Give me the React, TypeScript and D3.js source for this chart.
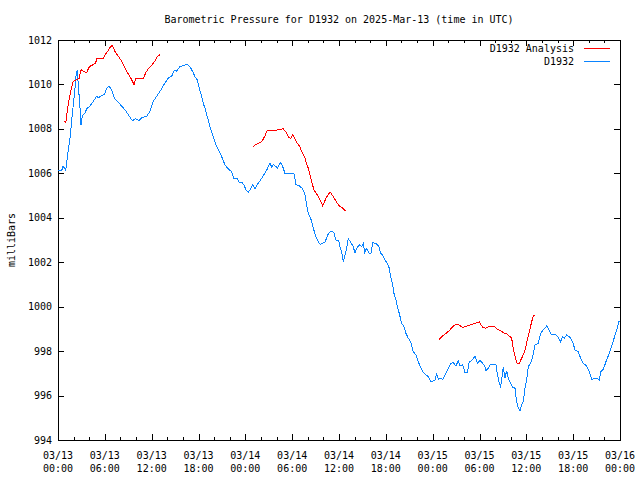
import React from "react";
import * as d3 from "d3";

// hours since 2025-03-13 00:00 UTC, pressure (mb)
const observed: [number, number][] = [
  [0.0, 1006.14], [0.5, 1006.15], [0.64, 1006.33], [0.99, 1006.15], [1.24, 1006.84], [1.54, 1007.59],
  [1.75, 1008.36], [1.96, 1009.09], [2.18, 1009.84], [2.31, 1010.38], [2.47, 1010.64], [2.6, 1009.99],
  [2.82, 1008.94], [2.95, 1008.19], [3.11, 1008.58], [3.46, 1008.72], [3.68, 1008.91], [4.1, 1009.03],
  [4.52, 1009.24], [4.96, 1009.47], [5.16, 1009.39], [5.6, 1009.51], [5.93, 1009.54], [6.24, 1009.84],
  [6.53, 1009.92], [6.88, 1009.76], [7.21, 1009.39], [7.72, 1009.21], [8.16, 1009.02], [8.58, 1008.86],
  [9.0, 1008.64], [9.52, 1008.37], [9.95, 1008.46], [10.38, 1008.37], [10.8, 1008.52], [11.36, 1008.57],
  [11.79, 1008.79], [12.21, 1009.24], [12.64, 1009.47], [13.2, 1009.76], [13.71, 1010.07], [14.13, 1010.29],
  [14.57, 1010.37], [14.9, 1010.64], [15.2, 1010.6], [15.63, 1010.8], [16.05, 1010.84], [16.56, 1010.91],
  [16.91, 1010.8], [17.26, 1010.57], [17.55, 1010.35], [17.85, 1010.2], [18.1, 1009.83], [18.41, 1009.45],
  [18.61, 1009.15], [18.83, 1008.93], [19.13, 1008.55], [19.47, 1008.1], [19.82, 1007.73], [20.11, 1007.4],
  [20.54, 1007.05], [20.97, 1006.75], [21.39, 1006.38], [21.82, 1006.2], [22.25, 1006.07], [22.55, 1005.75],
  [22.89, 1005.79], [23.23, 1005.6], [23.53, 1005.6], [23.83, 1005.48], [24.08, 1005.25], [24.38, 1005.15],
  [24.6, 1005.25], [24.94, 1005.48], [25.24, 1005.3], [25.53, 1005.5], [25.88, 1005.66], [26.3, 1005.89],
  [26.74, 1006.15], [27.16, 1006.45], [27.38, 1006.29], [27.58, 1006.41], [27.93, 1006.3], [28.09, 1006.23],
  [28.53, 1006.5], [28.79, 1006.3], [29.08, 1006.0], [29.59, 1005.97], [30.23, 1006.0], [30.49, 1005.5],
  [30.91, 1005.44], [31.35, 1005.3], [31.64, 1005.03], [31.86, 1004.58], [32.07, 1004.2], [32.37, 1003.98],
  [32.71, 1003.53], [33.05, 1003.15], [33.35, 1002.92], [33.56, 1002.81], [33.91, 1002.85], [34.24, 1002.92],
  [34.5, 1003.19], [34.76, 1003.35], [35.19, 1003.4], [35.36, 1003.3], [35.61, 1003.0], [35.96, 1002.96],
  [36.13, 1002.7], [36.34, 1002.47], [36.55, 1002.02], [36.77, 1002.33], [36.98, 1002.63], [37.19, 1003.05],
  [37.5, 1002.9], [37.83, 1002.7], [38.05, 1002.4], [38.27, 1002.63], [38.6, 1002.78], [38.91, 1002.7],
  [39.11, 1002.85], [39.29, 1002.45], [39.55, 1002.63], [39.88, 1002.4], [40.1, 1002.4], [40.31, 1002.88],
  [40.74, 1002.85], [41.08, 1002.73], [41.34, 1002.4], [41.67, 1002.28], [41.89, 1002.1], [42.19, 1001.95],
  [42.44, 1001.73], [42.62, 1001.35], [42.88, 1000.98], [43.04, 1000.6], [43.3, 1000.3], [43.47, 1000.0],
  [43.72, 999.7], [44.03, 999.25], [44.32, 999.1], [44.58, 998.8], [44.88, 998.58], [45.18, 998.42],
  [45.52, 997.97], [45.86, 997.83], [46.16, 997.52], [46.47, 997.27], [46.72, 997.07], [47.14, 996.93],
  [47.44, 996.85], [47.75, 996.62], [48.04, 996.66], [48.3, 996.7], [48.51, 996.97], [48.72, 996.73],
  [49.06, 996.78], [49.32, 996.73], [49.71, 997.0], [50.0, 997.23], [50.31, 997.45], [50.64, 997.48],
  [50.99, 997.33], [51.28, 997.57], [51.5, 997.33], [51.84, 997.38], [52.14, 997.03], [52.43, 997.03],
  [52.69, 997.52], [53.0, 997.57], [53.42, 997.78], [53.72, 997.45], [54.06, 997.57], [54.41, 997.45],
  [54.7, 997.3], [54.83, 997.12], [55.12, 997.23], [55.43, 997.42], [55.85, 997.42], [56.11, 997.38],
  [56.28, 997.0], [56.53, 996.55], [56.71, 996.4], [56.84, 996.7], [57.05, 997.3], [57.26, 996.78],
  [57.48, 997.12], [57.69, 996.78], [57.9, 996.62], [58.25, 996.37], [58.55, 996.33], [58.76, 995.72],
  [58.97, 995.43], [59.18, 995.32], [59.4, 995.58], [59.61, 995.72], [59.83, 996.33], [60.04, 996.7],
  [60.25, 997.3], [60.56, 997.45], [60.81, 997.75], [61.1, 998.28], [61.53, 998.35], [61.84, 998.8],
  [62.17, 998.95], [62.61, 999.13], [62.94, 998.92], [63.25, 998.73], [63.8, 998.73], [64.09, 998.62],
  [64.4, 998.42], [64.66, 998.65], [64.89, 998.59], [65.17, 998.73], [65.59, 998.62], [65.94, 998.42],
  [66.23, 998.05], [66.65, 997.97], [66.96, 997.68], [67.22, 997.48], [67.73, 997.33], [68.06, 997.07],
  [68.37, 996.73], [69.09, 996.78], [69.35, 996.7], [69.53, 997.07], [69.86, 997.18], [70.2, 997.52],
  [70.63, 997.9], [71.06, 998.35], [71.36, 998.73], [71.65, 999.03], [71.9, 999.37],
];

const analysisRun1: [number, number][] = [
  [0.81, 1008.34], [0.99, 1008.27], [1.24, 1008.94], [1.41, 1009.31], [1.67, 1009.76], [1.96, 1010.14],
  [2.4, 1010.21], [2.69, 1010.26], [2.95, 1010.66], [3.24, 1010.59], [3.68, 1010.52], [3.88, 1010.71],
  [4.1, 1010.82], [4.52, 1010.89], [4.83, 1010.97], [4.96, 1011.16], [5.8, 1011.16], [6.02, 1011.34],
  [6.37, 1011.49], [6.66, 1011.67], [6.96, 1011.76], [7.3, 1011.49], [7.72, 1011.27], [8.16, 1011.04],
  [8.49, 1010.82], [8.8, 1010.59], [9.1, 1010.41], [9.44, 1010.21], [9.74, 1009.99], [9.95, 1010.26],
  [10.93, 1010.26], [11.23, 1010.52], [11.57, 1010.71], [12.08, 1010.89], [12.43, 1011.07], [12.77, 1011.27],
  [13.07, 1011.34],
];

const analysisRun2: [number, number][] = [
  [24.94, 1007.17], [25.24, 1007.28], [25.66, 1007.35], [26.1, 1007.42], [26.52, 1007.69], [26.81, 1007.95],
  [27.38, 1007.95], [27.93, 1007.94], [28.35, 1007.98], [28.86, 1008.0], [29.21, 1007.85], [29.5, 1007.65],
  [29.81, 1007.55], [30.07, 1007.73], [30.36, 1007.55], [30.66, 1007.35], [31.0, 1007.2], [31.22, 1006.97],
  [31.64, 1006.7], [31.86, 1006.41], [32.07, 1006.23], [32.28, 1005.93], [32.5, 1005.62], [32.8, 1005.25],
  [33.22, 1005.03], [33.56, 1004.8], [33.91, 1004.54], [34.33, 1004.88], [34.85, 1005.17], [35.27, 1004.95],
  [35.7, 1004.7], [36.04, 1004.54], [36.47, 1004.43], [36.89, 1004.3],
];

const analysisRun3: [number, number][] = [
  [48.85, 998.53], [49.28, 998.68], [49.71, 998.8], [50.13, 998.92], [50.56, 999.1], [50.99, 999.22],
  [51.41, 999.17], [51.84, 999.07], [52.27, 999.1], [52.69, 999.17], [53.2, 999.22], [53.64, 999.28],
  [53.97, 999.31], [54.41, 999.07], [54.83, 999.03], [55.12, 999.1], [55.56, 999.13], [55.98, 999.1],
  [56.28, 998.98], [56.71, 998.92], [57.05, 998.83], [57.48, 998.77], [57.82, 998.68], [58.12, 998.58],
  [58.25, 998.28], [58.42, 997.97], [58.67, 997.6], [58.84, 997.45], [59.1, 997.45], [59.4, 997.68],
  [59.7, 997.9], [59.95, 998.2], [60.12, 998.5], [60.38, 998.87], [60.68, 999.32], [60.89, 999.58],
  [61.1, 999.63],
];

const xTickHours = [0, 6, 12, 18, 24, 30, 36, 42, 48, 54, 60, 66, 72];
const xTickDates = ["03/13", "03/13", "03/13", "03/13", "03/14", "03/14", "03/14", "03/14", "03/15", "03/15", "03/15", "03/15", "03/16"];
const xTickTimes = ["00:00", "06:00", "12:00", "18:00", "00:00", "06:00", "12:00", "18:00", "00:00", "06:00", "12:00", "18:00", "00:00"];
const yTicks = [994, 996, 998, 1000, 1002, 1004, 1006, 1008, 1010, 1012];

const W = 640, H = 480;
const L = 58, R = 620, T = 40, B = 440;
const RED = "#ff0000";
const BLUE = "#0a84ff";
const FONT = "'DejaVu Sans Mono', 'Liberation Mono', monospace";

export default function App() {
  const x = d3.scaleLinear().domain([0, 72]).range([L, R]);
  const y = d3.scaleLinear().domain([994, 1012]).range([B, T]);
  const line = d3.line<[number, number]>().x((d) => x(d[0])).y((d) => y(d[1]));
  const minor = d3.range(0, 73, 2).filter((h) => h % 6 !== 0);

  return (
    <svg width={W} height={H} style={{ position: "absolute", left: 0, top: 0, background: "#fff" }} fontFamily={FONT} fontSize={10}>
      <rect x={0} y={0} width={W} height={H} fill="#fff" />
      <text x={W / 2 + 19} y={23} textAnchor="middle">Barometric Pressure for D1932 on 2025-Mar-13 (time in UTC)</text>
      <text transform={`translate(15,${(T + B) / 2}) rotate(-90)`} textAnchor="middle">milliBars</text>

      <g stroke="#000" strokeWidth={1} shapeRendering="crispEdges">
        {yTicks.map((v) => (
          <g key={v}>
            <line x1={L} x2={L + 6} y1={Math.round(y(v)) + 0.5} y2={Math.round(y(v)) + 0.5} />
            <line x1={R - 6} x2={R} y1={Math.round(y(v)) + 0.5} y2={Math.round(y(v)) + 0.5} />
          </g>
        ))}
        {xTickHours.map((h) => (
          <g key={h}>
            <line x1={Math.round(x(h)) + 0.5} x2={Math.round(x(h)) + 0.5} y1={B} y2={B - 6} />
            <line x1={Math.round(x(h)) + 0.5} x2={Math.round(x(h)) + 0.5} y1={T} y2={T + 6} />
          </g>
        ))}
        {minor.map((h) => (
          <g key={h}>
            <line x1={Math.round(x(h)) + 0.5} x2={Math.round(x(h)) + 0.5} y1={B} y2={B - 3} />
            <line x1={Math.round(x(h)) + 0.5} x2={Math.round(x(h)) + 0.5} y1={T} y2={T + 3} />
          </g>
        ))}
        <rect x={L + 0.5} y={T + 0.5} width={R - L} height={B - T} fill="none" />
      </g>

      {yTicks.map((v) => (
        <text key={v} x={L - 6} y={y(v)} dy="0.35em" textAnchor="end">{v}</text>
      ))}
      {xTickHours.map((h, i) => (
        <g key={h}>
          <text x={x(h)} y={459} textAnchor="middle">{xTickDates[i]}</text>
          <text x={x(h)} y={472} textAnchor="middle">{xTickTimes[i]}</text>
        </g>
      ))}

      <g fill="none" strokeWidth={1} shapeRendering="crispEdges">
        <path d={line(observed) ?? ""} stroke={BLUE} />
        <path d={line(analysisRun1) ?? ""} stroke={RED} />
        <path d={line(analysisRun2) ?? ""} stroke={RED} />
        <path d={line(analysisRun3) ?? ""} stroke={RED} />
      </g>

      <text x={574} y={52} textAnchor="end">D1932 Analysis</text>
      <line x1={584} x2={610} y1={48.5} y2={48.5} stroke={RED} />
      <text x={574} y={65} textAnchor="end">D1932</text>
      <line x1={584} x2={610} y1={61.5} y2={61.5} stroke={BLUE} />
    </svg>
  );
}
